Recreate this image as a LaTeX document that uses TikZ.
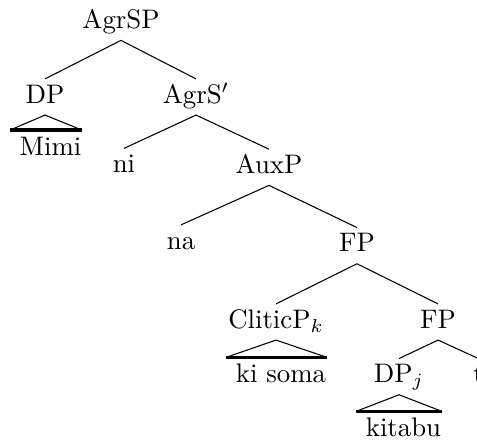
\documentclass[tikz,border=0pt]{standalone}
\usepackage{tikz}
\tikzstyle{cat}=[anchor=base,inner sep=1.8pt,text height=7pt,text depth=2.5pt]
\tikzstyle{roofleaf}=[anchor=base,inner xsep=0pt,inner ysep=2.3pt,text height=7pt,text depth=2.5pt]
\tikzstyle{roofbase}=[line width=1.2pt]
\begin{document}
\begin{tikzpicture}[x=0.3731pt,y=-0.3731pt]
\path[use as bounding box,clip] (0,0) rectangle (477,440);

\node[cat] (AgrSP) at (121,28.3) {AgrSP};
\node[cat] (DP) at (45,103) {DP};
\node[cat] (AgrSbar) at (196,103) {AgrS$'$};
\node[roofleaf] (mimi) at (46,155.5) {\ Mimi};
\node[cat] (ni) at (124,172.5) {ni};
\node[cat] (AuxP) at (269,173.3) {AuxP};
\node[cat] (na) at (181,249) {na};
\node[cat] (FP) at (357,251.7) {FP};
\node[cat] (clitic) at (276,328) {CliticP$_k$};
\node[cat] (FPlow) at (438,328) {FP};
\node[roofleaf] (kisoma) at (276.5,382.7) {\ ki soma};
\node[cat] (DPj) at (399,382.7) {DP$_j$};
\node[cat] (trace) at (478.5,382.7) {t};
\node[roofleaf] (kitabu) at (399,436.7) {\ kitabu};

\foreach \a/\b in {AgrSP/DP,AgrSP/AgrSbar,AgrSbar/ni,AgrSbar/AuxP,AuxP/na,AuxP/FP,FP/clitic,FP/FPlow,FPlow/DPj,FPlow/trace}{
	\draw (\a.south)--(\b.north);}
\foreach \p/\l in {DP/mimi,clitic/kisoma,DPj/kitabu}{
	\draw (\l.north west)--(\p.south)--(\l.north east);
	\draw[roofbase] (\l.north west)--(\l.north east);}
\end{tikzpicture}
\end{document}
